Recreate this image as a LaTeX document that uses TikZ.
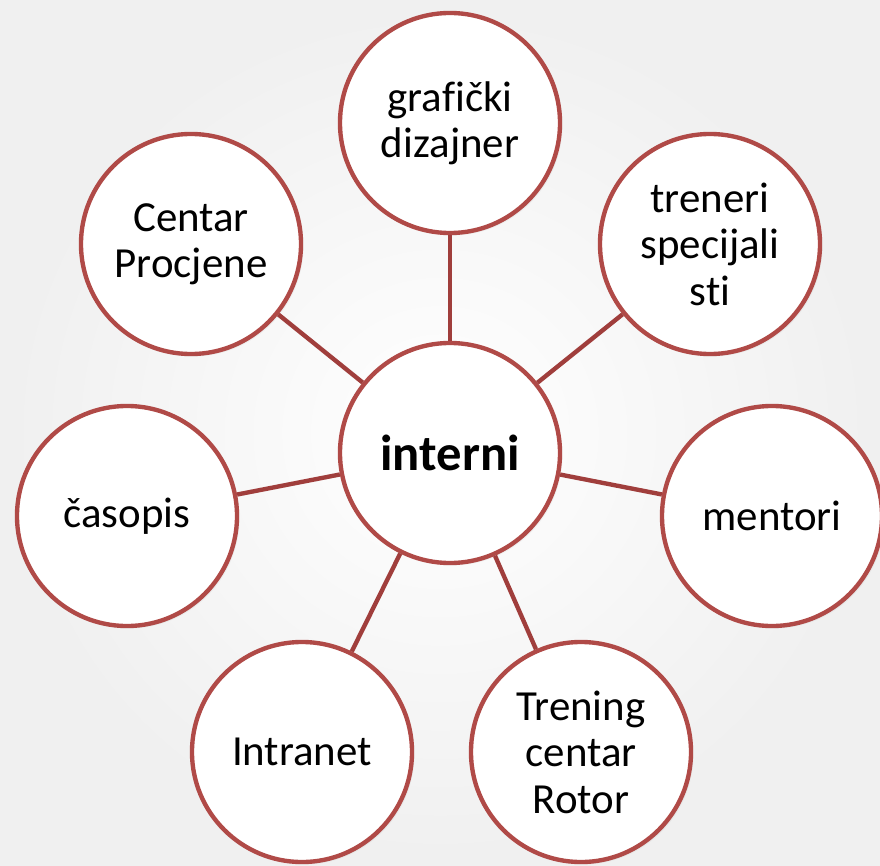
\documentclass[tikz,border=0pt]{standalone}
\usepackage{fontspec}
\setmainfont{Carlito}[Ligatures=NoCommon]
\usetikzlibrary{shadows}
\definecolor{ringred}{RGB}{176,74,71}
\definecolor{spokered}{RGB}{160,62,60}
\tikzset{
	bubble/.style={circle,draw=ringred,line width=3.1pt,fill=white,minimum size=5.5cm,inner sep=0pt,align=center,font=\fontsize{30.5}{33}\selectfont,drop shadow={opacity=0.08,shadow xshift=0.6mm,shadow yshift=-0.6mm}},
	spoke/.style={draw=spokered,line width=3.1pt}
}
\begin{document}
\begin{tikzpicture}[x=0.025cm,y=-0.025cm]
	\shade[inner color=white,outer color=black!6] (0,0) rectangle (880,866);
	\useasboundingbox (0,0) rectangle (880,866);
	\node[bubble,font=\fontsize{36}{40}\selectfont\bfseries] (hub) at (450,453) {interni};
	\node[bubble] (graf) at (450,123) {grafički\\dizajner};
	\node[bubble] (tren) at (710,244) {treneri\\specijali\\sti};
	\node[bubble] (ment) at (772,516) {mentori};
	\node[bubble] (rotor) at (581,752) {Trening\\centar\\Rotor};
	\node[bubble] (intra) at (302,752) {Intranet};
	\node[bubble] (caso) at (127,516) {časopis};
	\node[bubble] (centr) at (191,244) {Centar\\Procjene};
	\draw[spoke] (hub) -- (graf);
	\draw[spoke] (hub) -- (tren);
	\draw[spoke] (hub) -- (ment);
	\draw[spoke] (hub) -- (rotor);
	\draw[spoke] (hub) -- (intra);
	\draw[spoke] (hub) -- (caso);
	\draw[spoke] (hub) -- (centr);
\end{tikzpicture}
\end{document}
